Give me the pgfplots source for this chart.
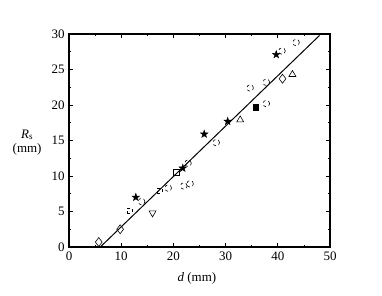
\documentclass[border=0pt]{standalone}
\usepackage{fontspec}
\setmainfont{Liberation Serif}
\usepackage{pgfplots}
\pgfplotsset{compat=1.18}
\pgfdeclareplotmark{fstar}{%
  \pgfpathmoveto{\pgfqpointpolar{90}{\pgfplotmarksize}}%
  \pgfpathlineto{\pgfqpointpolar{126}{0.4\pgfplotmarksize}}%
  \pgfpathlineto{\pgfqpointpolar{162}{\pgfplotmarksize}}%
  \pgfpathlineto{\pgfqpointpolar{198}{0.4\pgfplotmarksize}}%
  \pgfpathlineto{\pgfqpointpolar{234}{\pgfplotmarksize}}%
  \pgfpathlineto{\pgfqpointpolar{270}{0.4\pgfplotmarksize}}%
  \pgfpathlineto{\pgfqpointpolar{306}{\pgfplotmarksize}}%
  \pgfpathlineto{\pgfqpointpolar{342}{0.4\pgfplotmarksize}}%
  \pgfpathlineto{\pgfqpointpolar{18}{\pgfplotmarksize}}%
  \pgfpathlineto{\pgfqpointpolar{54}{0.4\pgfplotmarksize}}%
  \pgfpathclose
  \pgfusepathqfillstroke}
\begin{document}
\begin{tikzpicture}
\begin{axis}[
  scale only axis, width=261bp, height=213bp,
  xmin=0, xmax=50, ymin=0, ymax=30,
  xtick={0,10,20,30,40,50}, ytick={0,5,10,15,20,25,30},
  minor xtick={5,15,25,35,45}, minor ytick={2.5,7.5,12.5,17.5,22.5,27.5},
  tick align=inside, major tick length=4bp, minor tick length=2.5bp,
  tick style={black, line width=0.8pt},
  axis line style={line width=1.1pt},
  /pgf/number format/assume math mode=true,
  ticklabel style={font=\fontsize{13}{14}\selectfont},
  yticklabel style={xshift=-1bp},
  xticklabel style={yshift=-1bp},
  xlabel={\textit{d} (mm)},
  ylabel={\textit{R}\textsubscript{s}\\(mm)},
  label style={font=\fontsize{13}{15}\selectfont},
  xlabel style={at={(rel axis cs:0.49,0)}, anchor=north, yshift=-22bp},
  ylabel style={rotate=-90, align=center, at={(rel axis cs:0,0.49)}, anchor=east, xshift=-24bp},
  clip=false,
]
\addplot[black, line width=1pt] coordinates {(6,0) (48,29.8)};
% filled stars
\addplot[only marks, mark=fstar, mark options={fill=black}, mark size=4bp, black] coordinates {
(12.8,7.0) (21.8,11.1) (25.9,15.9) (30.4,17.7) (39.7,27.1)};
\addplot[only marks, mark=square*, mark size=2.8bp, black] coordinates {(35.8,19.7)};
% open diamonds
\addplot[only marks, mark=diamond, mark size=4.5bp, line width=0.6pt] coordinates {
(5.7,0.7) (9.8,2.5) (40.9,23.7)};
% open circles
\addplot[only marks, mark=o, mark size=3.3bp, line width=0.6pt, dashed] coordinates {
(22.8,11.8) (34.7,22.4) (37.8,23.2) (37.8,20.2) (40.8,27.6) (43.5,28.8) (19.0,8.3) (22.0,8.6) (23.2,8.9) (28.2,14.7) (13.9,6.4)};
% open triangles
\addplot[only marks, mark=triangle, mark size=4bp, line width=0.6pt] coordinates {
(32.8,17.9) (42.8,24.3)};
% inverted triangle
\addplot[only marks, mark=triangle, mark options={rotate=180}, mark size=4bp, line width=0.6pt] coordinates {
(16.0,4.8)};
% open squares
\addplot[only marks, mark=square, mark size=3.2bp, line width=0.6pt] coordinates {
(20.6,10.5)};
\addplot[only marks, mark=square, mark size=2.5bp, line width=0.5pt, dashed] coordinates {
(11.6,5.1) (17.4,7.9)};
\end{axis}
\path ([xshift=-69bp,yshift=-49bp]current axis.south west) rectangle ([xshift=52bp,yshift=34bp]current axis.north east);
\end{tikzpicture}
\end{document}
